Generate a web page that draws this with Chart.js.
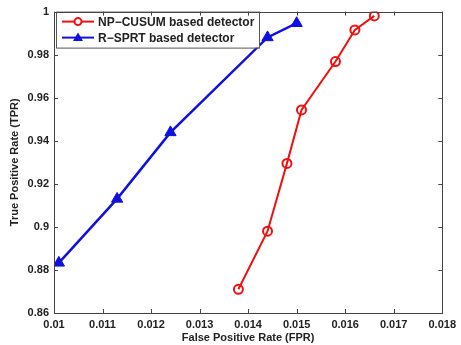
<!DOCTYPE html>
<html>
<head>
<meta charset="utf-8">
<script src="https://cdn.jsdelivr.net/npm/chart.js@4"></script>
<style>
  html, body { margin: 0; padding: 0; background: #fff; }
  #wrap { width: 461px; height: 345px; }
</style>
</head>
<body>
<div id="wrap"><canvas id="rocChart" width="461" height="345"></canvas></div>
<script>
// series values
const seriesNames = ["NP\u2212CUSUM based detector", "R\u2212SPRT based detector"];
const npFpr = [0.0138, 0.0144, 0.0148, 0.0151, 0.0158, 0.0162, 0.0166];
const npTpr = [0.871, 0.898, 0.9295, 0.9543, 0.9768, 0.9915, 0.998];
const srFpr = [0.0101, 0.0113, 0.0124, 0.0144, 0.015];
const srTpr = [0.8833, 0.913, 0.9439, 0.988, 0.9946];

// tick labels
const xTicks = [0.01, 0.011, 0.012, 0.013, 0.014, 0.015, 0.016, 0.017, 0.018];
const yTicks = [0.86, 0.88, 0.9, 0.92, 0.94, 0.96, 0.98, 1];

const FONT = "'Liberation Sans', Arial, sans-serif";
const RED = "#f01010";
const BLUE = "#1010e0";

function toPoints(xs, ys) {
  return xs.map((x, i) => ({ x: x, y: ys[i] }));
}

// matlab style box + inner ticks
const boxTicks = {
  id: "boxTicks",
  afterDraw(chart) {
    const ctx = chart.ctx;
    const a = chart.chartArea;
    const xs = chart.scales.x;
    const ys = chart.scales.y;
    ctx.save();
    ctx.strokeStyle = "#444";
    ctx.lineWidth = 1;
    ctx.beginPath();
    xTicks.forEach((v) => {
      const px = Math.round(xs.getPixelForValue(v)) + 0.5;
      ctx.moveTo(px, a.bottom);
      ctx.lineTo(px, a.bottom - 4);
      ctx.moveTo(px, a.top);
      ctx.lineTo(px, a.top + 4);
    });
    yTicks.forEach((v) => {
      const py = Math.round(ys.getPixelForValue(v)) + 0.5;
      ctx.moveTo(a.left, py);
      ctx.lineTo(a.left + 4, py);
      ctx.moveTo(a.right, py);
      ctx.lineTo(a.right - 4, py);
    });
    ctx.stroke();
    ctx.strokeRect(Math.round(a.left) + 0.5, Math.round(a.top) + 0.5,
      Math.round(a.right - a.left), Math.round(a.bottom - a.top));
    ctx.restore();
  },
};

// legend drawn inside the plot, top left
const boxLegend = {
  id: "boxLegend",
  afterDatasetsDraw(chart) {
    const ctx = chart.ctx;
    const a = chart.chartArea;
    const x0 = a.left + 2;
    const y0 = a.top;
    const w = 203;
    const h = 36;
    ctx.save();
    ctx.fillStyle = "#fff";
    ctx.fillRect(x0, y0, w, h);
    ctx.strokeStyle = "#555";
    ctx.lineWidth = 1;
    ctx.strokeRect(x0 + 0.5, y0 + 0.5, w, h);
    chart.data.datasets.forEach((ds, i) => {
      const cy = y0 + 10 + i * 16;
      ctx.strokeStyle = ds.borderColor;
      ctx.lineWidth = 2;
      ctx.beginPath();
      ctx.moveTo(x0 + 6, cy);
      ctx.lineTo(x0 + 38, cy);
      ctx.stroke();
      const mx = x0 + 22;
      if (ds.pointStyle === "triangle") {
        ctx.fillStyle = ds.pointBackgroundColor;
        ctx.beginPath();
        ctx.moveTo(mx, cy - 5);
        ctx.lineTo(mx + 5, cy + 3.5);
        ctx.lineTo(mx - 5, cy + 3.5);
        ctx.closePath();
        ctx.fill();
      } else {
        ctx.fillStyle = "#fff";
        ctx.beginPath();
        ctx.arc(mx, cy, 3.5, 0, Math.PI * 2);
        ctx.fill();
        ctx.stroke();
      }
      ctx.fillStyle = "#222";
      ctx.font = "bold 12px " + FONT;
      ctx.textBaseline = "middle";
      ctx.textAlign = "left";
      ctx.fillText(ds.label, x0 + 42, cy + 1);
    });
    ctx.restore();
  },
};

const ctx = document.getElementById("rocChart").getContext("2d");
new Chart(ctx, {
  type: "scatter",
  data: {
    datasets: [
      {
        label: seriesNames[0],
        data: toPoints(npFpr, npTpr),
        showLine: true,
        borderColor: RED,
        borderWidth: 2,
        pointStyle: "circle",
        pointRadius: 4.5,
        pointBorderWidth: 2,
        pointBackgroundColor: "rgba(255,255,255,0)",
        pointBorderColor: RED,
      },
      {
        label: seriesNames[1],
        data: toPoints(srFpr, srTpr),
        showLine: true,
        borderColor: BLUE,
        borderWidth: 2.5,
        pointStyle: "triangle",
        pointRadius: 6.5,
        pointBorderWidth: 1,
        pointBackgroundColor: BLUE,
        pointBorderColor: BLUE,
      },
    ],
  },
  options: {
    responsive: false,
    animation: false,
    layout: { padding: { left: 4, top: 11, right: 15, bottom: 0 } },
    plugins: {
      legend: { display: false },
      tooltip: { enabled: false },
    },
    scales: {
      x: {
        type: "linear",
        min: 0.01,
        max: 0.018,
        afterBuildTicks: (scale) => {
          scale.ticks = xTicks.map((v) => ({ value: v }));
        },
        afterFit: (scale) => {
          scale.height = 32;
        },
        grid: { display: false, drawTicks: false },
        border: { display: false },
        ticks: {
          padding: 5,
          color: "#222",
          font: { family: FONT, size: 11, weight: "bold" },
          maxRotation: 0,
          autoSkip: false,
          callback: (v) => String(+v.toFixed(4)),
        },
        title: {
          display: true,
          text: "False Positive Rate (FPR)",
          color: "#222",
          font: { family: FONT, size: 11, weight: "bold" },
          padding: { top: 0, bottom: 0 },
        },
      },
      y: {
        type: "linear",
        min: 0.86,
        max: 1,
        afterBuildTicks: (scale) => {
          scale.ticks = yTicks.map((v) => ({ value: v }));
        },
        afterFit: (scale) => {
          scale.width = 50;
        },
        grid: { display: false, drawTicks: false },
        border: { display: false },
        ticks: {
          padding: 5,
          color: "#222",
          font: { family: FONT, size: 11, weight: "bold" },
          autoSkip: false,
          callback: (v) => String(+v.toFixed(3)),
        },
        title: {
          display: true,
          text: "True Positive Rate (TPR)",
          color: "#222",
          font: { family: FONT, size: 11, weight: "bold" },
          padding: { top: 4, bottom: 0 },
        },
      },
    },
  },
  plugins: [boxLegend, boxTicks],
});
</script>
</body>
</html>
